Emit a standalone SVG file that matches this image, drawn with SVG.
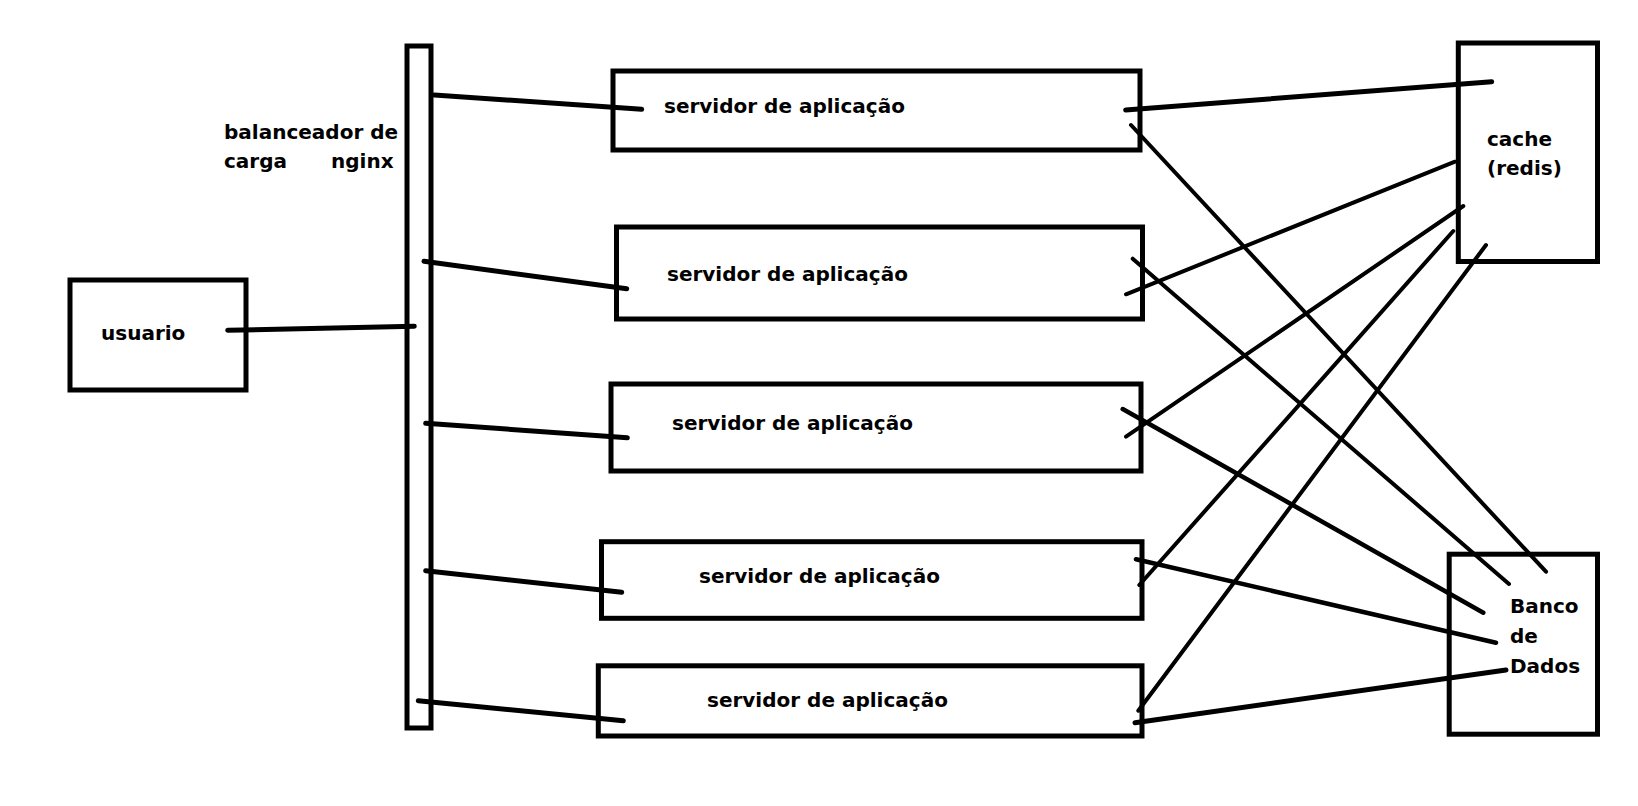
<svg xmlns="http://www.w3.org/2000/svg" width="1638" height="806" viewBox="0 0 1638 806">
<style>
.box{fill:#fff;stroke:#000;stroke-width:5}
.lbl{font-family:"DejaVu Sans","Liberation Sans",sans-serif;font-weight:bold;font-size:20px;fill:#000}
.c{stroke:#000;stroke-linecap:round;fill:none}
.w5{stroke-width:5}
.w45{stroke-width:4.5}
.w4{stroke-width:4}
</style>
<rect width="1638" height="806" fill="#fff"/>
<g id="usuario">
<rect class="box" x="70" y="280" width="176" height="110"/>
<text class="lbl" x="101" y="340">usuario</text>
</g>
<g id="balanceador">
<rect class="box" x="407" y="46" width="24" height="682"/>
<text class="lbl" x="224" y="139">balanceador de</text>
<text class="lbl" y="168"><tspan x="224">carga</tspan><tspan x="331">nginx</tspan></text>
</g>
<g id="servidor1">
<rect class="box" x="613" y="71" width="527" height="79"/>
<text class="lbl" x="664" y="113">servidor de aplicação</text>
</g>
<g id="servidor2">
<rect class="box" x="616.5" y="227" width="526" height="92"/>
<text class="lbl" x="667" y="281">servidor de aplicação</text>
</g>
<g id="servidor3">
<rect class="box" x="611" y="384" width="530" height="87"/>
<text class="lbl" x="672" y="430">servidor de aplicação</text>
</g>
<g id="servidor4">
<rect class="box" x="601.5" y="541.7" width="540.5" height="76.6"/>
<text class="lbl" x="699" y="583">servidor de aplicação</text>
</g>
<g id="servidor5">
<rect class="box" x="598.3" y="665.8" width="543.7" height="70.2"/>
<text class="lbl" x="707" y="707">servidor de aplicação</text>
</g>
<g id="cache">
<rect class="box" x="1458.3" y="43" width="139.2" height="218.5"/>
<text class="lbl" x="1487" y="146">cache</text>
<text class="lbl" x="1487" y="175">(redis)</text>
</g>
<g id="banco">
<rect class="box" x="1449.2" y="554.2" width="148.3" height="180"/>
<text class="lbl" x="1510" y="613">Banco</text>
<text class="lbl" x="1510" y="643">de</text>
<text class="lbl" x="1510" y="673">Dados</text>
</g>
<g id="connectors">
<line class="c w5" x1="227.7" y1="330.3" x2="414.3" y2="326.3"/>
<line class="c w5" x1="434.3" y1="95" x2="641.7" y2="109.3"/>
<line class="c w5" x1="424" y1="261.3" x2="626.7" y2="288.7"/>
<line class="c w5" x1="425.7" y1="423.3" x2="627.3" y2="437.7"/>
<line class="c w5" x1="425.7" y1="570.7" x2="621.7" y2="592.3"/>
<line class="c w5" x1="418.3" y1="700.7" x2="623.3" y2="720.7"/>
<line class="c w5" x1="1125.7" y1="110" x2="1491.7" y2="81.7"/>
<line class="c w4" x1="1126" y1="294.3" x2="1455" y2="161.7"/>
<line class="c w4" x1="1126" y1="436.7" x2="1463.3" y2="206"/>
<line class="c w4" x1="1139.3" y1="585" x2="1453.3" y2="231"/>
<line class="c w4" x1="1138.3" y1="710.7" x2="1486" y2="245"/>
<line class="c w4" x1="1131" y1="125" x2="1546" y2="571.7"/>
<line class="c w4" x1="1132.7" y1="258.7" x2="1509" y2="584"/>
<line class="c w45" x1="1122.7" y1="409" x2="1483.3" y2="612.7"/>
<line class="c w45" x1="1136" y1="559.3" x2="1496" y2="642.7"/>
<line class="c w5" x1="1135" y1="722.7" x2="1506" y2="670"/>
</g>
</svg>
